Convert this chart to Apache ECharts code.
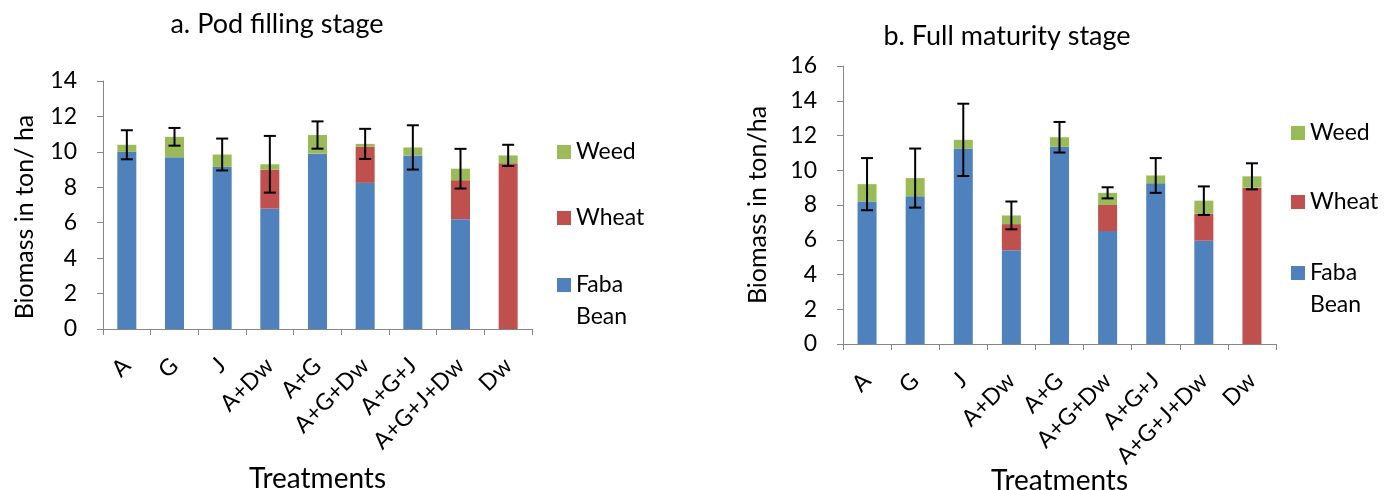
<!DOCTYPE html>
<html>
<head>
<meta charset="utf-8">
<script src="https://cdn.jsdelivr.net/npm/echarts@6/dist/echarts.min.js"></script>
<style>html,body{margin:0;padding:0;background:#fff}#c{width:1386px;height:490px}</style>
</head>
<body>
<div id="c"></div>
<script>
var categories = ['A','G','J','A+Dw','A+G','A+G+Dw','A+G+J','A+G+J+Dw','Dw'];
var podFaba  = [10.0, 9.7, 9.15, 6.8, 9.9, 8.25, 9.8, 6.2, 0];
var podWheat = [0, 0, 0, 2.2, 0, 2.05, 0, 2.2, 9.35];
var podWeed  = [0.4, 1.15, 0.7, 0.3, 1.05, 0.15, 0.45, 0.65, 0.45];
var podErr   = [0.82, 0.5, 0.9, 1.6, 0.77, 0.85, 1.25, 1.12, 0.6];
var matFaba  = [8.2, 8.5, 11.25, 5.4, 11.35, 6.5, 9.25, 5.95, 0];
var matWheat = [0, 0, 0, 1.5, 0, 1.5, 0, 1.55, 9.0];
var matWeed  = [1.0, 1.05, 0.5, 0.5, 0.55, 0.7, 0.45, 0.75, 0.65];
var matErr   = [1.5, 1.7, 2.08, 0.8, 0.88, 0.32, 1.0, 0.82, 0.75];
var titles = ['a. Pod filling stage', 'b. Full maturity stage'];
var yNames = ['Biomass in ton/ ha', 'Biomass in ton/ha'];
var xName = 'Treatments';

var FONT = 'Lato';
var BLUE = '#4F81BD', RED = '#C0504D', GREEN = '#9BBB59';

function errData(f, w, g, e) {
  return categories.map(function (c, i) {
    var t = f[i] + w[i] + g[i];
    return [i, t - e[i], t + e[i]];
  });
}
function renderErr(params, api) {
  var lo = api.coord([api.value(0), api.value(1)]);
  var hi = api.coord([api.value(0), api.value(2)]);
  var x = lo[0], hw = 6;
  var st = { stroke: '#000', lineWidth: 2 };
  return { type: 'group', children: [
    { type: 'line', shape: { x1: x, y1: lo[1], x2: x, y2: hi[1] }, style: st },
    { type: 'line', shape: { x1: x - hw, y1: lo[1], x2: x + hw, y2: lo[1] }, style: st },
    { type: 'line', shape: { x1: x - hw, y1: hi[1], x2: x + hw, y2: hi[1] }, style: st }
  ]};
}
var axisLine = { show: true, lineStyle: { color: '#868686', width: 1 } };
function xAx(idx, gap) {
  return { type: 'category', gridIndex: idx, data: categories,
    axisLine: axisLine, axisTick: { show: true, length: 6, lineStyle: { color: '#868686' } },
    axisLabel: { rotate: 45, margin: 33, fontFamily: FONT, fontSize: 23, color: '#000' },
    name: xName, nameLocation: 'middle', nameGap: gap, nameMoveOverlap: false,
    nameTextStyle: { fontFamily: FONT, fontSize: 28, color: '#000' } };
}
function yAx(idx, max, gap, name, pad) {
  return { type: 'value', gridIndex: idx, min: 0, max: max, interval: 2,
    axisLine: axisLine, axisTick: { show: true, length: 6, lineStyle: { color: '#868686' } },
    splitLine: { show: false },
    axisLabel: { margin: 26, fontFamily: FONT, fontSize: 23, color: '#000' },
    name: name, nameLocation: 'middle', nameGap: gap, nameRotate: 90, nameMoveOverlap: false,
    nameTextStyle: { fontFamily: FONT, fontSize: 25, color: '#000', padding: pad } };
}
function bar(name, data, color, idx) {
  return { name: name, type: 'bar', stack: 's' + idx, xAxisIndex: idx, yAxisIndex: idx,
    data: data, barWidth: 19, itemStyle: { color: color }, animation: false };
}
function lg(name, left, top, text) {
  return { show: true, orient: 'vertical', left: left, top: top, padding: 0,
    itemWidth: 14, itemHeight: 14, itemGap: 0, icon: 'rect',
    data: [name], selectedMode: false,
    formatter: text ? function () { return text; } : undefined,
    textStyle: { fontFamily: FONT, fontSize: 23, color: '#000', lineHeight: 32 } };
}
var option = {
  animation: false,
  title: [
    { text: titles[0], left: 272, top: 6, textAlign: 'center', textStyle: { fontFamily: FONT, fontSize: 27, fontWeight: 'normal', color: '#000' } },
    { text: titles[1], left: 1002, top: 18, textAlign: 'center', textStyle: { fontFamily: FONT, fontSize: 27, fontWeight: 'normal', color: '#000' } }
  ],
  grid: [
    { left: 103, right: 854, top: 81, bottom: 161, outerBoundsMode: 'none', containLabel: false },
    { left: 843, right: 110, top: 66, bottom: 146, outerBoundsMode: 'none', containLabel: false }
  ],
  xAxis: [xAx(0, 136), xAx(1, 123)],
  yAxis: [yAx(0, 14, 66, yNames[0], [0, 24, 0, 0]), yAx(1, 16, 73, yNames[1], 0)],
  legend: [
    lg('Weed', 557, 136), lg('Wheat', 557, 202), lg('Faba Bean', 557, 237, ' \nFaba\nBean'),
    lg('Weed', 1291, 117), lg('Wheat', 1291, 186), lg('Faba Bean', 1291, 225, ' \nFaba\nBean')
  ],
  series: [
    bar('Faba Bean', podFaba, BLUE, 0), bar('Wheat', podWheat, RED, 0), bar('Weed', podWeed, GREEN, 0),
    bar('Faba Bean', matFaba, BLUE, 1), bar('Wheat', matWheat, RED, 1), bar('Weed', matWeed, GREEN, 1),
    { type: 'custom', name: 'errA', xAxisIndex: 0, yAxisIndex: 0, renderItem: renderErr,
      data: errData(podFaba, podWheat, podWeed, podErr), encode: { x: 0, y: [1, 2] }, z: 5 },
    { type: 'custom', name: 'errB', xAxisIndex: 1, yAxisIndex: 1, renderItem: renderErr,
      data: errData(matFaba, matWheat, matWeed, matErr), encode: { x: 0, y: [1, 2] }, z: 5 }
  ]
};
echarts.init(document.getElementById('c')).setOption(option);
</script>
</body>
</html>
